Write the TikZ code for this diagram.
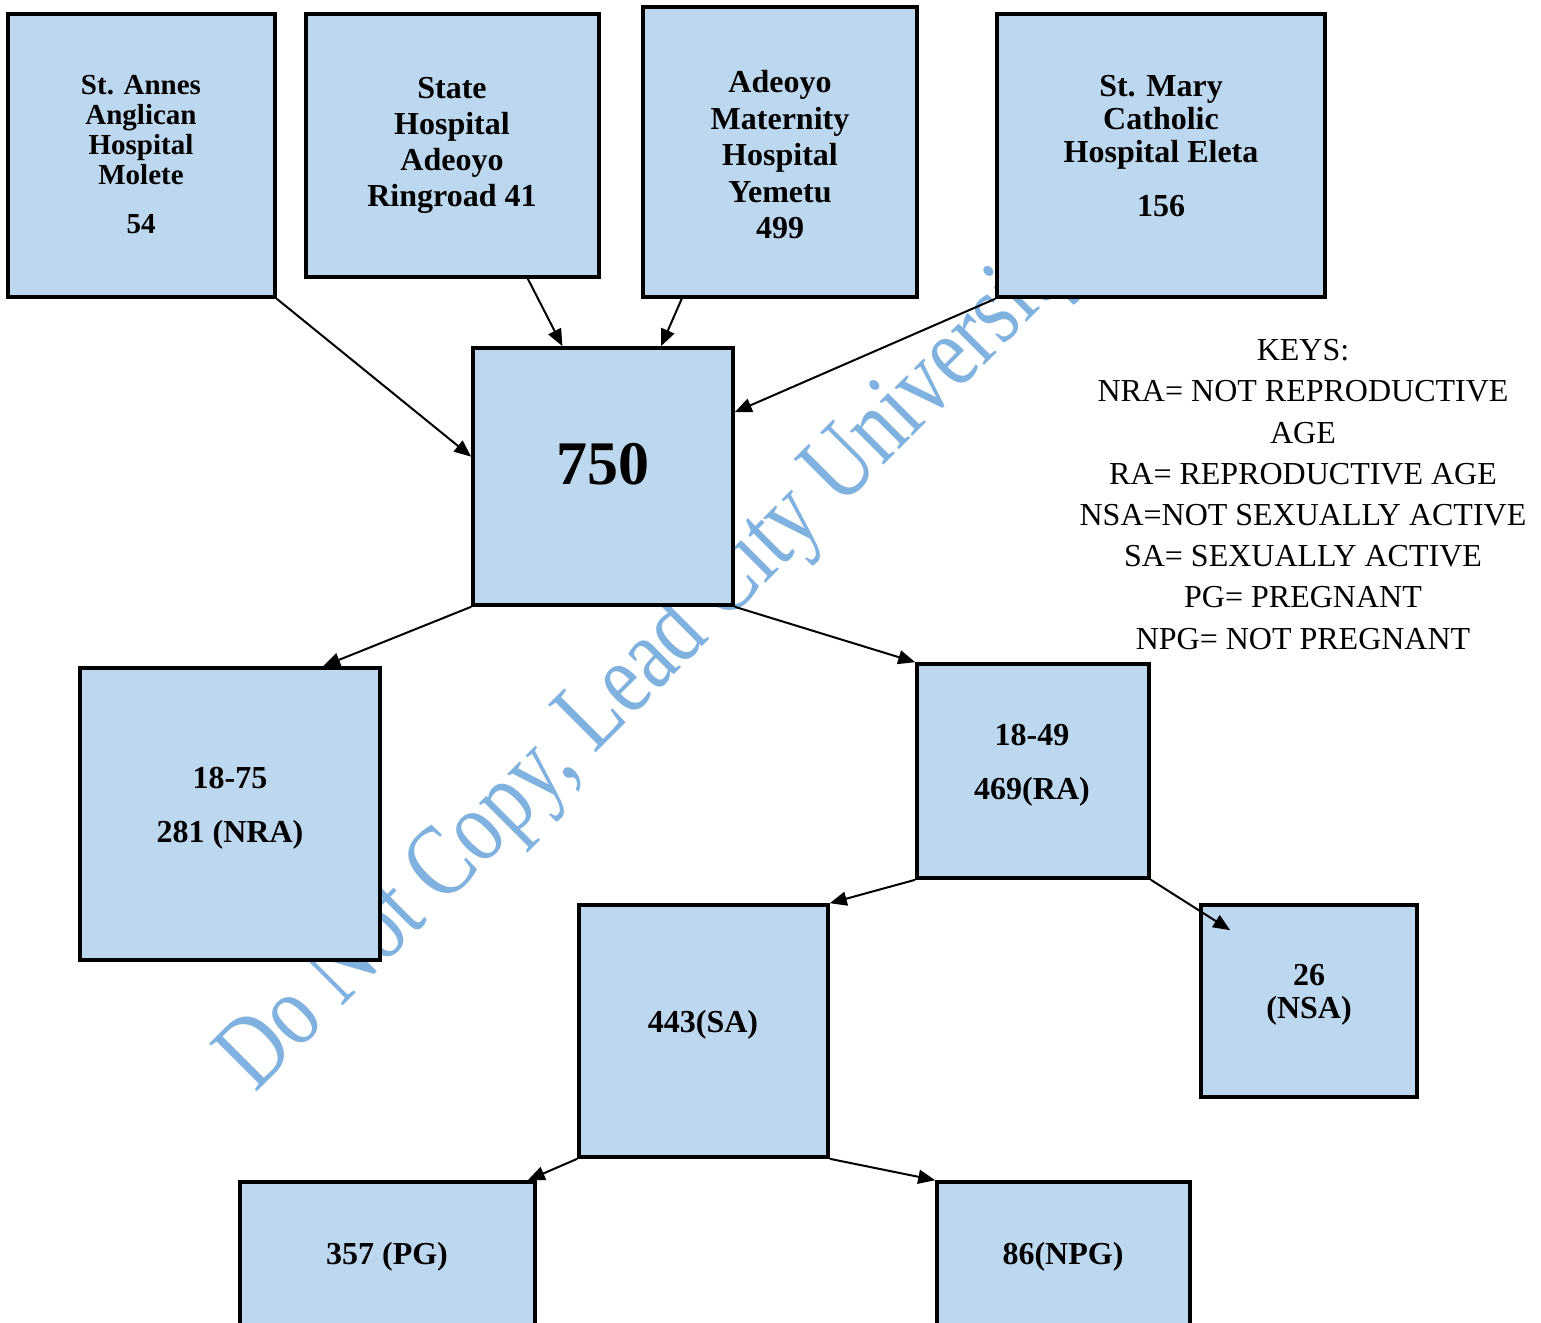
\documentclass[tikz,border=0pt]{standalone}
\usepackage{fontspec}
\setmainfont{Liberation Serif}
\usetikzlibrary{arrows.meta,calc}
\definecolor{boxblue}{RGB}{189,215,238}
\definecolor{markblue}{RGB}{128,178,224}
\begin{document}
\begin{tikzpicture}[x=0.5pt, y=-0.5pt,
        box/.style={rectangle, draw, line width=1.8pt, fill=boxblue, inner sep=0pt},
        lbl/.style={align=center, inner sep=0pt, font=\bfseries\fontsize{16}{18}\selectfont},
        key/.style={align=center, inner sep=0pt, font=\fontsize{16}{20.6}\selectfont},
        watermark/.style={text=markblue, inner sep=0pt, font=\fontsize{51.5}{52}\selectfont},
        edge/.style={line width=1pt, -{Triangle[length=8.5pt, width=7pt]}}
      ]
      \clip (0,0) rectangle (1541,1322);
      \node[watermark, rotate=45, anchor=base west] (wm) at (255,1094) {\scalebox{0.8}[1]{Do Not Copy, Lead City University}};
      % hospitals
      \node[box, minimum width=133.5pt, minimum height=141.5pt] (annes) at (141.5,155.5) {};
      \node[box, minimum width=146.5pt, minimum height=131.5pt] (state) at (452.5,145.5) {};
      \node[box, minimum width=137pt, minimum height=145pt] (adeoyo) at (780,152) {};
      \node[box, minimum width=164pt, minimum height=141.5pt] (mary) at (1161,155.5) {};
      \node[lbl, font=\bfseries\fontsize{14.5}{15}\selectfont] (annestxt) at (141,155) {St. Annes\\Anglican\\Hospital\\Molete\\[9.5pt]54};
      \node[lbl] (statetxt) at (452,145) {State\\Hospital\\Adeoyo\\Ringroad 41};
      \node[lbl, font=\bfseries\fontsize{16}{18.25}\selectfont] (adeoyotxt) at (780,155) {Adeoyo\\Maternity\\Hospital\\Yemetu\\499};
      \node[lbl, font=\bfseries\fontsize{16}{16.5}\selectfont] (marytxt) at (1161,146) {St. Mary\\Catholic\\Hospital Eleta\\[10.5pt]156};
      % total and age groups
      \node[box, minimum width=130pt, minimum height=128.5pt] (total) at (603,476.5) {};
      \node[lbl, font=\bfseries\fontsize{31}{32}\selectfont] (totaltxt) at (603,464) {750};
      \node[box, minimum width=150pt, minimum height=146pt] (nra) at (230,814) {};
      \node[lbl, font=\bfseries\fontsize{16}{27}\selectfont] (nratxt) at (230,808) {18-75\\281 (NRA)};
      \node[box, minimum width=116pt, minimum height=107pt] (ra) at (1033,771) {};
      \node[lbl, font=\bfseries\fontsize{16}{27}\selectfont] (ratxt) at (1032,765) {18-49\\469(RA)};
      \node[box, minimum width=124.5pt, minimum height=126pt] (sa) at (703.5,1031) {};
      \node[lbl] (satxt) at (703,1025) {443(SA)};
      \node[box, minimum width=108pt, minimum height=96pt] (nsa) at (1309,1001) {};
      \node[lbl, font=\bfseries\fontsize{16}{16.5}\selectfont] (nsatxt) at (1309,995) {26\\(NSA)};
      \node[box, minimum width=147.5pt, minimum height=81.5pt] (pg) at (387.5,1263.5) {};
      \node[lbl] (pgtxt) at (387,1257) {357 (PG)};
      \node[box, minimum width=126.5pt, minimum height=81.5pt] (npg) at (1063.5,1263.5) {};
      \node[lbl] (npgtxt) at (1063,1257) {86(NPG)};
      % keys
      \node[key] (keys) at (1303,494.5) {KEYS:\\NRA= NOT REPRODUCTIVE\\AGE\\RA= REPRODUCTIVE AGE\\NSA=NOT SEXUALLY ACTIVE\\SA= SEXUALLY ACTIVE\\PG= PREGNANT\\NPG= NOT PREGNANT};
      % connectors
      \draw[edge] (annes.south east) -- ($(total.north west)!0.424!(total.south west)$);
      \draw[edge] ($(state.south west)!0.754!(state.south east)$) -- ($(total.north west)!0.346!(total.north east)$);
      \draw[edge] ($(adeoyo.south west)!0.146!(adeoyo.south east)$) -- ($(total.north west)!0.72!(total.north east)$);
      \draw[edge] (mary.south west) -- ($(total.north east)!0.253!(total.south east)$);
      \draw[edge] (total.south west) -- ($(nra.north west)!0.807!(nra.north east)$);
      \draw[edge] (total.south east) -- (ra.north west);
      \draw[edge] (ra.south west) -- (sa.north east);
      \draw[edge] (ra.south east) -- ($(nsa.north west)+(31,27)$);
      \draw[edge] (sa.south west) -- ($(pg.north west)!0.97!(pg.north east)$);
      \draw[edge] (sa.south east) -- (npg.north west);
    \end{tikzpicture}
\end{document}
